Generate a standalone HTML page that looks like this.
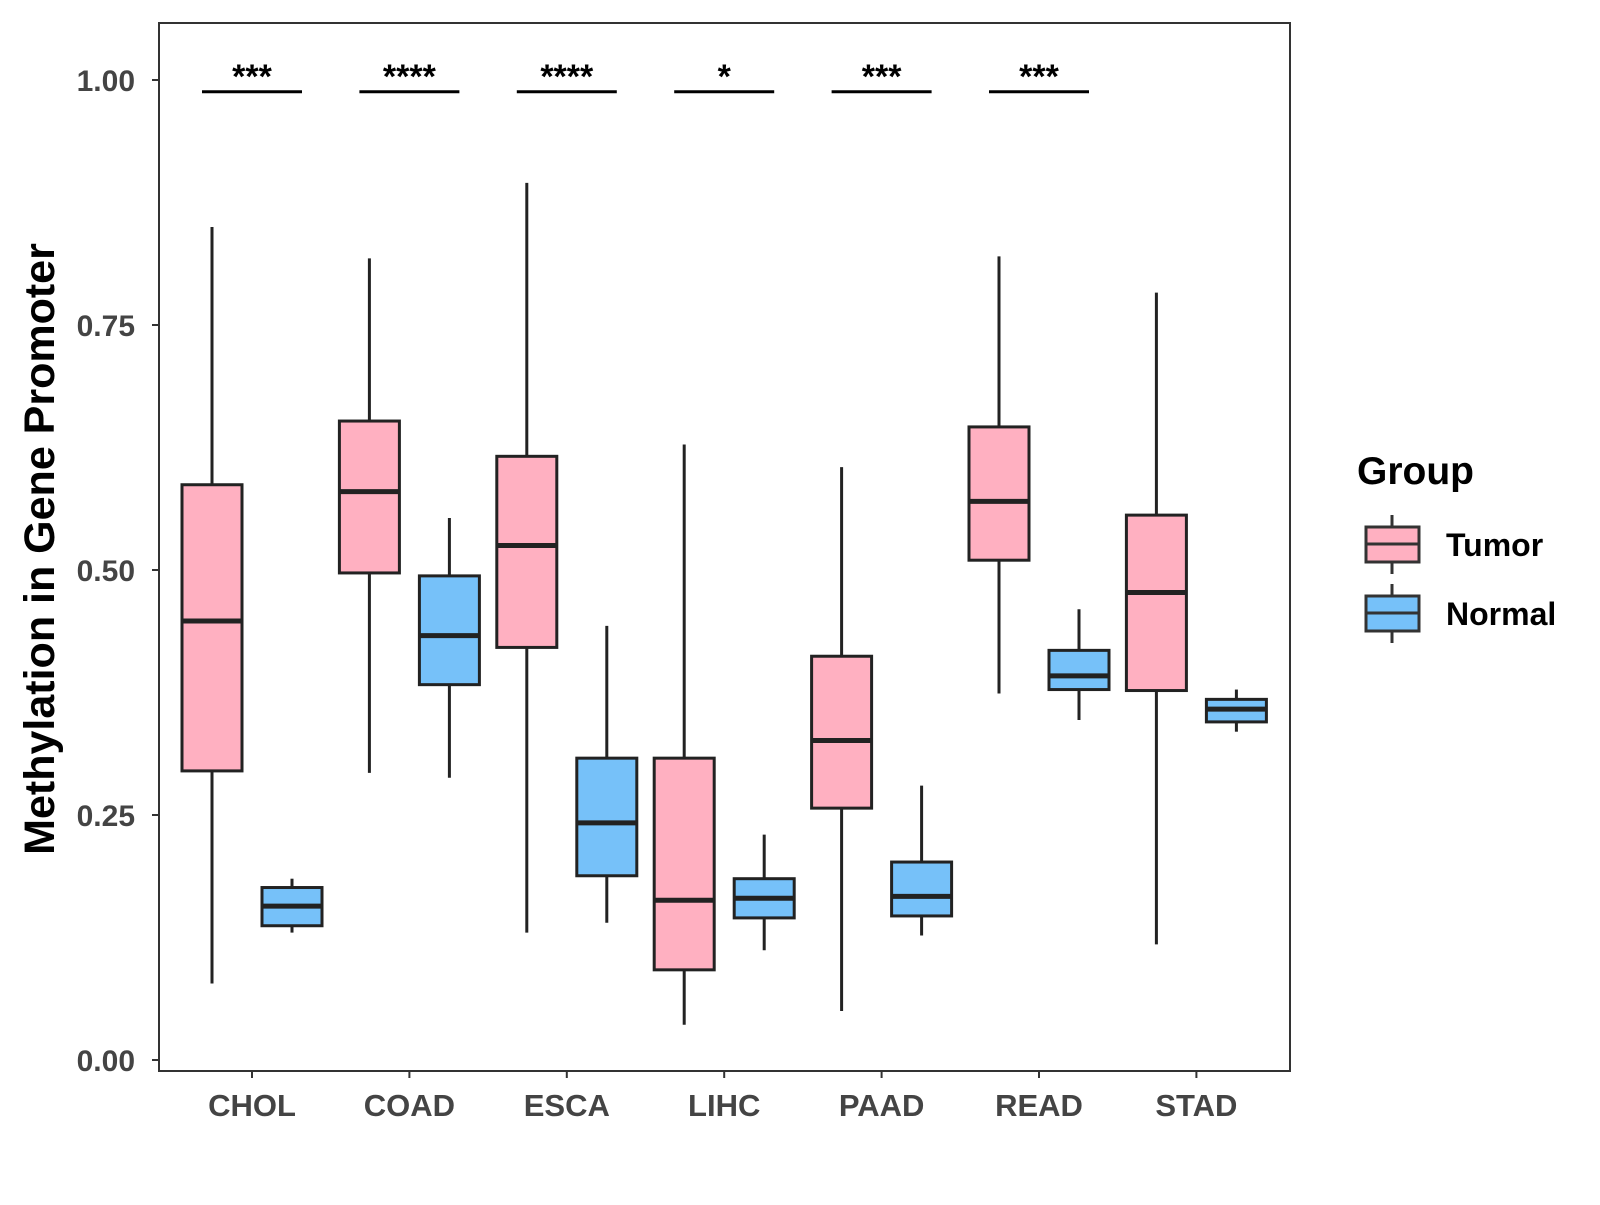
<!DOCTYPE html>
<html><head><meta charset="utf-8"><style>
body{margin:0;background:#fff}
svg text{font-family:"Liberation Sans",sans-serif;font-weight:bold}
</style></head><body>
<svg width="1600" height="1200" xmlns="http://www.w3.org/2000/svg" id="chart">
<rect x="159" y="23" width="1131" height="1048" fill="none" stroke="#333" stroke-width="2"/>
<g id="marks"></g>
<text transform="translate(54,549) rotate(-90)" text-anchor="middle" font-size="43" fill="#000">Methylation in Gene Promoter</text>
<text x="1357" y="484" font-size="39" fill="#000">Group</text>
<g>
<line x1="1392" y1="515" x2="1392" y2="574" stroke="#333" stroke-width="3"/>
<rect x="1366" y="527" width="53" height="35" fill="#FFB0C1" stroke="#333" stroke-width="3"/>
<line x1="1366" y1="544" x2="1419" y2="544" stroke="#333" stroke-width="3"/>
<text x="1446" y="556" font-size="32" fill="#000">Tumor</text></g>
<g>
<line x1="1392" y1="584" x2="1392" y2="643" stroke="#333" stroke-width="3"/>
<rect x="1366" y="596" width="53" height="35" fill="#76C1F9" stroke="#333" stroke-width="3"/>
<line x1="1366" y1="613" x2="1419" y2="613" stroke="#333" stroke-width="3"/>
<text x="1446" y="625" font-size="32" fill="#000">Normal</text></g>
</svg>
<script>
const categories=["CHOL","COAD","ESCA","LIHC","PAAD","READ","STAD"];
const tumorStats=[[0.078,0.295,0.448,0.587,0.85],[0.293,0.497,0.58,0.652,0.818],[0.13,0.421,0.525,0.616,0.895],[0.036,0.092,0.163,0.308,0.628],[0.05,0.257,0.326,0.412,0.605],[0.374,0.51,0.57,0.646,0.82],[0.118,0.377,0.477,0.556,0.783]];
const normalStats=[[0.13,0.137,0.157,0.176,0.185],[0.288,0.383,0.433,0.494,0.553],[0.14,0.188,0.242,0.308,0.443],[0.112,0.145,0.165,0.185,0.23],[0.127,0.147,0.167,0.202,0.28],[0.347,0.378,0.392,0.418,0.46],[0.335,0.345,0.358,0.368,0.378]];
const sigLabels=["***","****","****","*","***","***"];
const yTicks=[0,0.25,0.5,0.75,1.0];
const yTickLabels=["0.00","0.25","0.50","0.75","1.00"];
const NS="http://www.w3.org/2000/svg";
const g=document.getElementById('marks');
const y=v=>1060-v*980;
const x=i=>252+i*157.4;
function mk(t,a){const e=document.createElementNS(NS,t);for(const k in a)e.setAttribute(k,a[k]);g.appendChild(e);return e;}
yTicks.forEach((v,i)=>{
 const l=mk('line',{x1:152,x2:159,y1:y(v),y2:y(v),stroke:'#333','stroke-width':2});
 
 
 const t=mk('text',{x:135,y:y(v)+11,'text-anchor':'end','font-size':30,fill:'#444'});
 t.textContent=yTickLabels[i];
 
 
});
categories.forEach((c,i)=>{
 const l=mk('line',{x1:x(i),x2:x(i),y1:1071,y2:1078,stroke:'#333','stroke-width':2});
 
 
 const t=mk('text',{x:x(i),y:1116,'text-anchor':'middle','font-size':31,fill:'#444'});
 t.textContent=c;
 
 
});
function box(cx,s,fill,name){
 const w=60;
 const wl=mk('line',{x1:cx,x2:cx,y1:y(s[0]),y2:y(s[4]),stroke:'#222','stroke-width':3});
 
 
 const r=mk('rect',{x:cx-w/2,y:y(s[3]),width:w,height:y(s[1])-y(s[3]),fill:fill,stroke:'#222','stroke-width':3});
 
 
 const m=mk('line',{x1:cx-w/2,x2:cx+w/2,y1:y(s[2]),y2:y(s[2]),stroke:'#222','stroke-width':5});
 
 
}
categories.forEach((c,i)=>{
 box(x(i)-40,tumorStats[i],'#FFB0C1',c.toLowerCase()+'-tumor');
 box(x(i)+40,normalStats[i],'#76C1F9',c.toLowerCase()+'-normal');
});
sigLabels.forEach((s,i)=>{
 const l=mk('line',{x1:x(i)-50,x2:x(i)+50,y1:y(0.988),y2:y(0.988),stroke:'#000','stroke-width':3});
 
 
 const t=mk('text',{x:x(i),y:y(0.988)-4,'text-anchor':'middle','font-size':34,fill:'#000'});
 t.textContent=s;
 
 
});
</script>
</body></html>
